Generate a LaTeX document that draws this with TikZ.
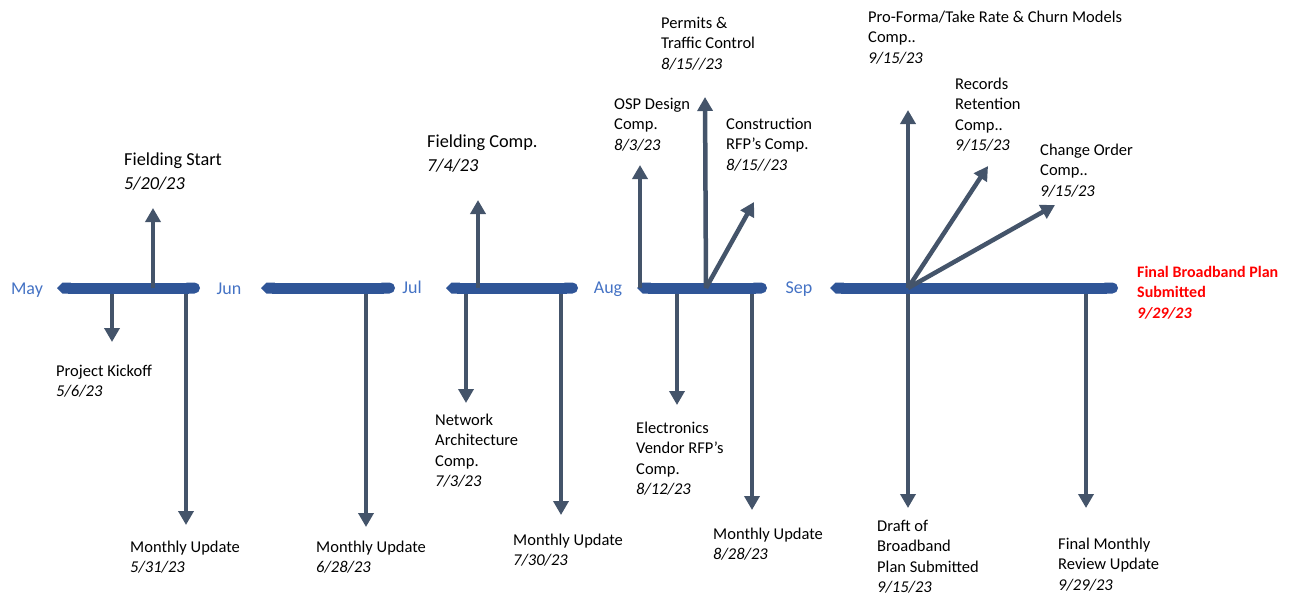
\documentclass[tikz,border=0pt]{standalone}
\usepackage{fontspec}
\setmainfont{Carlito}
\usetikzlibrary{arrows.meta}
\definecolor{barblue}{HTML}{2F5597}
\definecolor{slate}{HTML}{44546A}
\definecolor{monthblue}{HTML}{4472C4}
\begin{document}
\begin{tikzpicture}
[x=1pt, y=-1pt,
bar/.style={draw=barblue, line width=11pt, {Triangle Cap[]}-{Round Cap[]}},
ev/.style={draw=slate, line width=4.5pt, -{Triangle[width=15pt,length=14pt]}},
lbl/.style={anchor=north west, inner sep=0pt, align=left, font=\fontsize{16.5}{20.3}\selectfont},
big/.style={lbl, font=\fontsize{18.3}{23.5}\selectfont},
month/.style={anchor=mid, inner sep=0pt, text=monthblue, font=\fontsize{18}{22}\selectfont},
fin/.style={lbl, text=red, font=\fontsize{16}{20.5}\selectfont\bfseries}]

\useasboundingbox (0,0) rectangle (1298,595);

% month bars
\coordinate (may0) at (57,288);  \coordinate (may1) at (200,288);
\coordinate (jun0) at (261,288); \coordinate (jun1) at (395,288);
\coordinate (jul0) at (446,288); \coordinate (jul1) at (578,288);
\coordinate (aug0) at (637,288); \coordinate (aug1) at (767,288);
\coordinate (sep0) at (830,288); \coordinate (sep1) at (1118,288);
\coordinate (augHub) at (706,288);
\coordinate (sepHub) at (908,288);

\node[month] (may) at (27,292) {May};
\node[month] (jun) at (229,292) {Jun};
\node[month] (jul) at (412,291) {Jul};
\node[month] (aug) at (608,291) {Aug};
\node[month] (sep) at (799,291) {Sep};

% arrow tips
\coordinate (fsT) at (153,208);
\coordinate (pkT) at (112,342);
\coordinate (mu1T) at (186,525);
\coordinate (mu2T) at (366,527);
\coordinate (fcT) at (478,200);
\coordinate (naT) at (466,403);
\coordinate (mu3T) at (561,515);
\coordinate (ospT) at (640,165);
\coordinate (pmT) at (705,97);
\coordinate (crT) at (754,202);
\coordinate (elT) at (677,405);
\coordinate (mu4T) at (752,510);
\coordinate (pfT) at (908,110);
\coordinate (rrT) at (988,166);
\coordinate (coT) at (1055,205);
\coordinate (drT) at (908,508);
\coordinate (fmT) at (1086,508);

% downward events
\draw[ev] (pkT |- may0) -- (pkT);
\draw[ev] (mu1T |- may0) -- (mu1T);
\draw[ev] (mu2T |- jun0) -- (mu2T);
\draw[ev] (naT |- jul0) -- (naT);
\draw[ev] (mu3T |- jul0) -- (mu3T);
\draw[ev] (elT |- aug0) -- (elT);
\draw[ev] (mu4T |- aug0) -- (mu4T);
\draw[ev] (drT |- sep0) -- (drT);
\draw[ev] (fmT |- sep0) -- (fmT);

\draw[bar] (may0) -- (may1);
\draw[bar] (jun0) -- (jun1);
\draw[bar] (jul0) -- (jul1);
\draw[bar] (aug0) -- (aug1);
\draw[bar] (sep0) -- (sep1);

% upward events
\draw[ev] (fsT |- may0) -- (fsT);
\draw[ev] (fcT |- jul0) -- (fcT);
\draw[ev] (ospT |- aug0) -- (ospT);
\draw[ev] (augHub) -- (pmT);
\draw[ev] (augHub) -- (crT);
\draw[ev] (sepHub) -- (pfT);
\draw[ev] (sepHub) -- (rrT);
\draw[ev] (sepHub) -- (coT);

% labels
\node[big] (fs) at (124,153) {Fielding Start\\\textit{5/20/23}};
\node[lbl] (pk) at (56,365) {Project Kickoff\\\textit{5/6/23}};
\node[lbl] (mu1) at (130,541) {Monthly Update\\\textit{5/31/23}};
\node[lbl] (mu2) at (316,541) {Monthly Update\\\textit{6/28/23}};
\node[big] (fc) at (427,135) {Fielding Comp.\\\textit{7/4/23}};
\node[lbl] (na) at (435,414) {Network\\Architecture\\Comp.\\\textit{7/3/23}};
\node[lbl] (mu3) at (513,534) {Monthly Update\\\textit{7/30/23}};
\node[lbl] (osp) at (614,98) {OSP Design\\Comp.\\\textit{8/3/23}};
\node[lbl] (pm) at (661,17) {Permits \&\\Traffic Control\\\textit{8/15//23}};
\node[lbl] (cr) at (726,118) {Construction\\RFP’s Comp.\\\textit{8/15//23}};
\node[lbl] (el) at (636,422) {Electronics\\Vendor RFP’s\\Comp.\\\textit{8/12/23}};
\node[lbl] (mu4) at (713,528) {Monthly Update\\\textit{8/28/23}};
\node[lbl] (pf) at (868,11) {Pro-Forma/Take Rate \& Churn Models\\Comp..\\\textit{9/15/23}};
\node[lbl] (rr) at (955,78) {Records\\Retention\\Comp..\\\textit{9/15/23}};
\node[lbl] (co) at (1040,144) {Change Order\\Comp..\\\textit{9/15/23}};
\node[lbl] (dr) at (877,520) {Draft of\\Broadband\\Plan Submitted\\\textit{9/15/23}};
\node[lbl] (fm) at (1058,538) {Final Monthly\\Review Update\\\textit{9/29/23}};
\node[fin] (fb) at (1137,266) {Final Broadband Plan\\Submitted\\\textit{9/29/23}};
\end{tikzpicture}
\end{document}
